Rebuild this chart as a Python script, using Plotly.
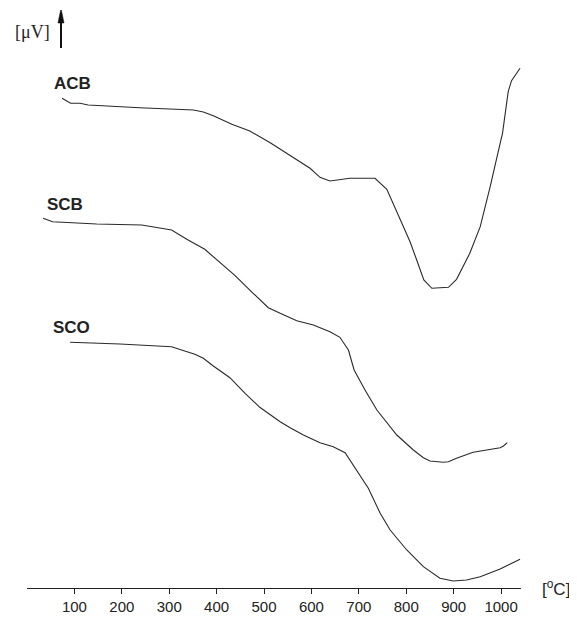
import plotly.graph_objects as go

# Temperature [°C] and signal [arbitrary µV units]
acb_t = [74, 92, 112, 129, 238, 351, 372, 393, 432, 470, 513, 534, 555, 597, 618, 639,
         681, 734, 759, 780, 808, 822, 837, 854, 889, 906, 934, 956, 977, 998, 1003,
         1015, 1022, 1040]
acb_v = [489.7, 484.7, 484.7, 483, 480.3, 478, 476, 472.3, 463.7, 457, 445.3, 439, 433,
         419.7, 410.7, 407, 409.7, 409.7, 398.7, 376.3, 346.3, 328, 308, 299.7, 300.7,
         308.7, 334.7, 361.3, 401.3, 444.7, 454.7, 496.3, 507.3, 519.7]

scb_t = [34, 54, 147, 242, 305, 337, 375, 400, 439, 477, 509, 534, 555, 569, 604, 639,
         660, 678, 690, 713, 738, 780, 815, 836, 850, 878, 889, 906, 941, 998, 1005, 1013]
scb_v = [369.7, 366.3, 364, 363, 358, 348.7, 338.7, 328, 312.3, 294.7, 280.3, 274.7,
         270.7, 267.3, 263, 256.3, 250.7, 238, 218, 198, 178, 153, 138, 130.3, 127,
         125.7, 126.3, 129.7, 135.7, 140.3, 142, 145.3]

sco_t = [91, 196, 305, 354, 372, 393, 428, 460, 491, 534, 555, 583, 618, 646, 671, 695,
         720, 745, 766, 801, 836, 871, 899, 927, 956, 998, 1040]
sco_v = [245.7, 244, 241.3, 233.7, 229.7, 222, 210.3, 194.7, 180.7, 166.3, 160.3, 153,
         145.3, 141.3, 135.3, 118, 99.7, 74.7, 58, 38, 21.3, 9.7, 7, 8, 11.3, 19, 28.7]

tick_vals = [100, 200, 300, 400, 500, 600, 700, 800, 900, 1000]
tick_text = [str(v) for v in tick_vals]

series = [("ACB", acb_t, acb_v), ("SCB", scb_t, scb_v), ("SCO", sco_t, sco_v)]

fig = go.Figure()
for name, t, v in series:
    fig.add_trace(go.Scatter(x=t, y=v, mode="lines", name=name,
                             line=dict(color="#2a2a2a", width=1.1),
                             showlegend=False, hoverinfo="skip"))

label_pos = {"ACB": (97, 505), "SCB": (80, 384), "SCO": (94, 261)}
for name, (lx, ly) in label_pos.items():
    fig.add_annotation(x=lx, y=ly, xref="x", yref="y", text="<b>" + name + "</b>",
                       showarrow=False, xanchor="center", yanchor="middle",
                       font=dict(family="Liberation Sans, Arial", size=17, color="#222"))

# y-axis unit
fig.add_annotation(x=0.0107, y=0.9614, xref="paper", yref="paper", text="[\u03bcV]",
                   showarrow=False, xanchor="center", yanchor="middle",
                   font=dict(family="Liberation Serif, Times New Roman", size=18, color="#222"))
# y-axis arrow (stem + head)
fig.add_shape(type="line", x0=71.7, x1=71.7, y0=540, y1=568, xref="x", yref="y",
              line=dict(color="#111", width=2))
fig.add_shape(type="path", path="M 65.3 565 L 71.7 579.7 L 78.1 565 Z", xref="x", yref="y",
              fillcolor="#111", line=dict(color="#111", width=0.5))
# x-axis unit
fig.add_annotation(x=1.0385, y=0, xref="paper", yref="paper", text="[<sup>o</sup>C]",
                   showarrow=False, xanchor="left", yanchor="middle",
                   font=dict(family="Liberation Sans, Arial", size=17, color="#222"))

fig.update_layout(
    width=569, height=615,
    margin=dict(l=19, r=56, t=2, b=35),
    plot_bgcolor="white", paper_bgcolor="white",
    xaxis=dict(range=[0, 1042], showgrid=False, zeroline=False, showline=True,
               linecolor="#222", linewidth=1, ticks="outside", ticklen=5,
               tickcolor="#222", tickvals=tick_vals, ticktext=tick_text,
               tickfont=dict(family="Liberation Sans, Arial", size=15, color="#222")),
    yaxis=dict(range=[0, 578], visible=False),
)

fig.write_html("out.html")
